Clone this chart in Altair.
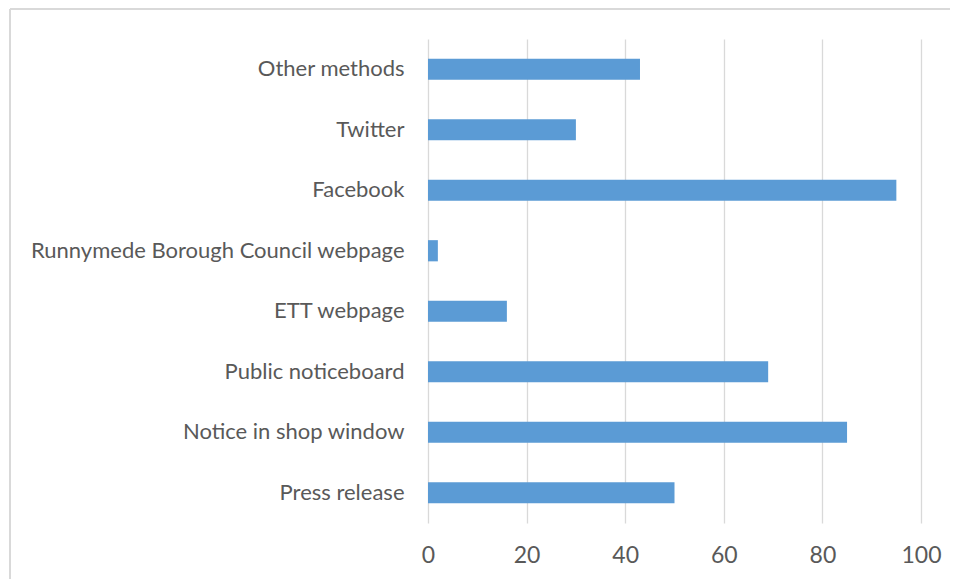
import altair as alt
import pandas as pd

categories = [
    "Other methods",
    "Twitter",
    "Facebook",
    "Runnymede Borough Council webpage",
    "ETT webpage",
    "Public noticeboard",
    "Notice in shop window",
    "Press release",
]
values = [43, 30, 95, 2, 16, 69, 85, 50]

df = pd.DataFrame({"method": categories, "count": values})

FONT = "Lato"
TXT = "#595959"

bars = alt.Chart(df).mark_bar(color="#5B9BD5").encode(
    x=alt.X(
        "count:Q",
        scale=alt.Scale(domain=[0, 100], nice=False),
        axis=alt.Axis(
            values=[0, 20, 40, 60, 80, 100],
            title=None,
            domain=False,
            ticks=False,
            grid=True,
            gridColor="#D9D9D9",
            gridWidth=1.3,
            labelFlush=False,
            labelPadding=21,
            labelFontSize=23,
            labelColor=TXT,
            labelFont=FONT,
        ),
    ),
    y=alt.Y(
        "method:N",
        sort=categories,
        scale=alt.Scale(paddingInner=0.65, paddingOuter=0.325),
        axis=alt.Axis(
            title=None,
            domain=False,
            ticks=False,
            labelPadding=24,
            labelFontSize=22,
            labelColor=TXT,
            labelFont=FONT,
            labelLimit=500,
        ),
    ),
)

border_left = alt.Chart(df).mark_rule(color="#D9D9D9", strokeWidth=1.5, clip=False).encode(
    x=alt.value(-418), y=alt.value(-30), y2=alt.value(600)
)
border_top = alt.Chart(df).mark_rule(color="#D9D9D9", strokeWidth=1.5, clip=False).encode(
    x=alt.value(-418), x2=alt.value(600), y=alt.value(-30)
)

chart = (
    alt.layer(border_left, border_top, bars)
    .properties(
        width=493,
        height=484,
        autosize=alt.AutoSizeParams(type="none"),
        padding={"left": 420, "top": 31, "right": 29, "bottom": 56},
        background="white",
    )
    .configure_view(stroke=None)
)

chart.save("out.html", embed_options={"renderer": "svg", "actions": False})
